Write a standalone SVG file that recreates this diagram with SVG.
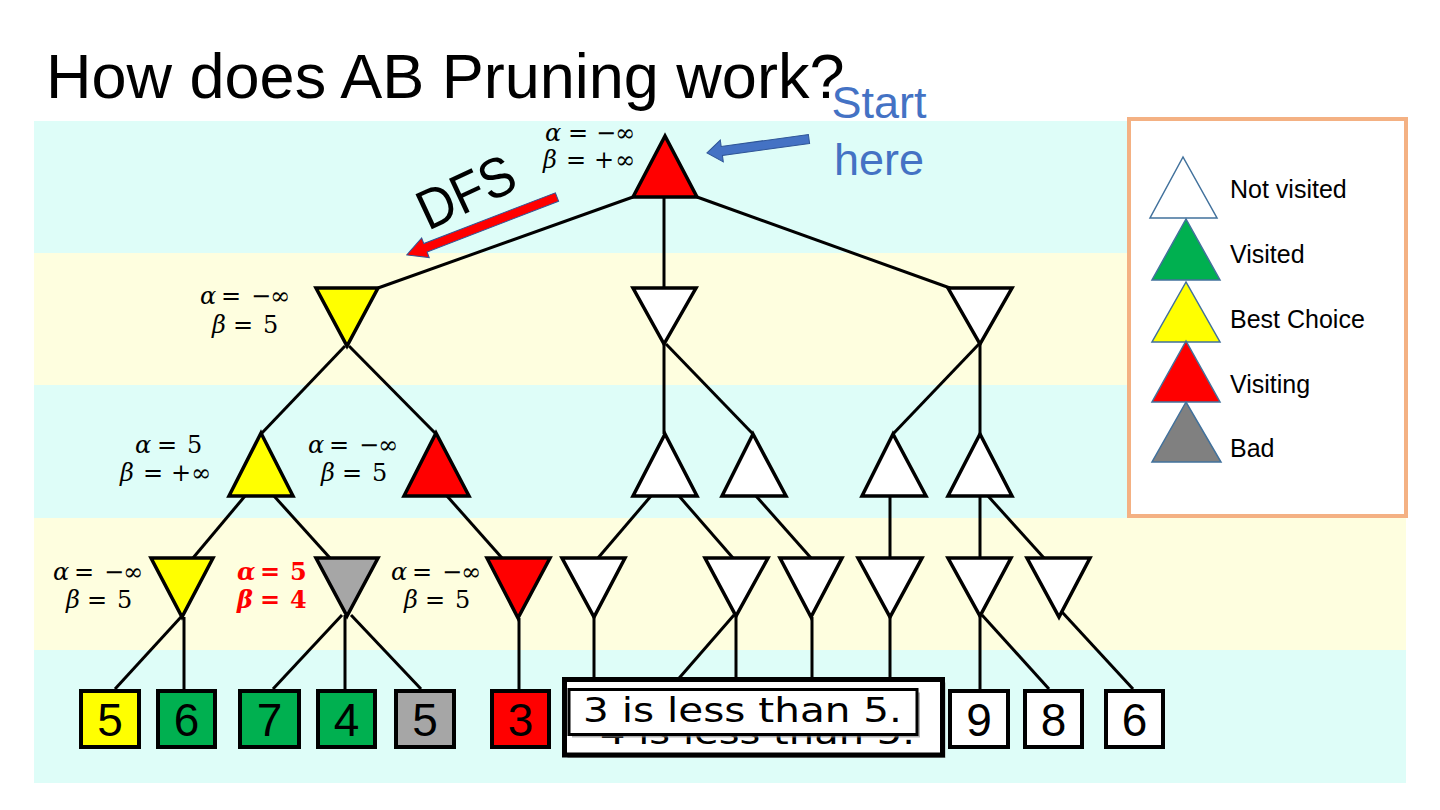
<svg xmlns="http://www.w3.org/2000/svg" width="1440" height="810" viewBox="0 0 1440 810">
<defs>
<style>
.bandC{fill:#DEFDF8}
.bandY{fill:#FEFEDF}
.tri{stroke:#000;stroke-width:3.5;stroke-linejoin:miter}
.conn line{stroke:#000;stroke-width:3;stroke-linecap:butt}
.leaf rect{stroke:#000;stroke-width:4}
.leaf text{font-family:"Liberation Sans",Arial,sans-serif;font-size:46px;text-anchor:middle;fill:#000}
.lbl{font-family:"DejaVu Serif","Liberation Serif",serif;font-size:24px;fill:#000}
.lbl .g{font-style:italic}
.red{fill:#FF0000;font-weight:bold}
.lg{stroke:#41719C;stroke-width:1.5}
.lgt{font-family:"Liberation Sans",Arial,sans-serif;font-size:25px;fill:#000}
.white{fill:#FFFFFF}.yellow{fill:#FFFF00}.redf{fill:#FF0000}.gray{fill:#A6A6A6}.green{fill:#00B050}
</style>
</defs>
<rect width="1440" height="810" fill="#FFFFFF"/>
<g id="bands">
<rect class="bandC" x="34" y="121" width="1372" height="132"/>
<rect class="bandY" x="34" y="253" width="1372" height="132"/>
<rect class="bandC" x="34" y="385" width="1372" height="133"/>
<rect class="bandY" x="34" y="518" width="1372" height="132"/>
<rect class="bandC" x="34" y="650" width="1372" height="133"/>
</g>
<text id="title" x="46" y="98" font-family="Liberation Sans, Arial, sans-serif" font-size="63" fill="#000">How does AB Pruning work?</text>

<g id="connectors" class="conn">
<line x1="633" y1="197" x2="378" y2="288"/>
<line x1="664" y1="197" x2="664" y2="288"/>
<line x1="697" y1="197" x2="950" y2="288"/>
<line x1="345" y1="346" x2="261" y2="434"/>
<line x1="349" y1="346" x2="436" y2="434"/>
<line x1="664" y1="344" x2="664" y2="434"/>
<line x1="666" y1="344" x2="753" y2="434"/>
<line x1="979" y1="344" x2="893" y2="434"/>
<line x1="980" y1="344" x2="980" y2="434"/>
<line x1="245" y1="496" x2="193" y2="558"/>
<line x1="274" y1="496" x2="330" y2="558"/>
<line x1="447" y1="496" x2="502" y2="558"/>
<line x1="651" y1="496" x2="598" y2="558"/>
<line x1="679" y1="496" x2="733" y2="558"/>
<line x1="756" y1="496" x2="811" y2="558"/>
<line x1="890" y1="496" x2="890" y2="558"/>
<line x1="980" y1="496" x2="980" y2="558"/>
<line x1="988" y1="496" x2="1044" y2="558"/>
<line x1="181" y1="617" x2="115" y2="689"/>
<line x1="184" y1="617" x2="184" y2="689"/>
<line x1="342" y1="615" x2="273" y2="689"/>
<line x1="345" y1="615" x2="345" y2="689"/>
<line x1="351" y1="615" x2="421" y2="689"/>
<line x1="519" y1="618" x2="519" y2="689"/>
<line x1="594" y1="617" x2="594" y2="684"/>
<line x1="734" y1="615" x2="674" y2="684"/>
<line x1="736" y1="615" x2="736" y2="684"/>
<line x1="812" y1="617" x2="812" y2="684"/>
<line x1="890" y1="617" x2="890" y2="684"/>
<line x1="980" y1="615" x2="980" y2="689"/>
<line x1="982" y1="615" x2="1049" y2="689"/>
<line x1="1062" y1="612" x2="1133" y2="689"/>
</g>

<g id="root"><polygon class="tri redf" points="665,136 633,197 697,197"/></g>
<g id="n1a"><polygon class="tri yellow" points="316,288 378,288 347,346"/></g>
<g id="n1b"><polygon class="tri white" points="633,288 696,288 664,344"/></g>
<g id="n1c"><polygon class="tri white" points="948,288 1012,288 980,344"/></g>
<g id="n2a"><polygon class="tri yellow" points="261,433 229,496 293,496"/></g>
<g id="n2b"><polygon class="tri redf" points="436,433 404,496 469,496"/></g>
<g id="n2c"><polygon class="tri white" points="665,434 633,496 697,496"/></g>
<g id="n2d"><polygon class="tri white" points="753,434 722,496 786,496"/></g>
<g id="n2e"><polygon class="tri white" points="893,434 862,496 926,496"/></g>
<g id="n2f"><polygon class="tri white" points="980,434 948,496 1012,496"/></g>
<g id="n3a"><polygon class="tri yellow" points="151,558 213,558 182,617"/></g>
<g id="n3b"><polygon class="tri gray" points="316,558 378,558 347,616"/></g>
<g id="n3c"><polygon class="tri redf" points="487,558 550,558 518,618"/></g>
<g id="n3d"><polygon class="tri white" points="562,558 625,558 594,617"/></g>
<g id="n3e"><polygon class="tri white" points="705,558 768,558 736,616"/></g>
<g id="n3f"><polygon class="tri white" points="780,558 842,558 811,617"/></g>
<g id="n3g"><polygon class="tri white" points="858,558 922,558 890,617"/></g>
<g id="n3h"><polygon class="tri white" points="948,558 1011,558 980,616"/></g>
<g id="n3i"><polygon class="tri white" points="1027,558 1090,558 1059,617"/></g>

<g id="leaf1" class="leaf"><rect class="yellow" x="81" y="691" width="58" height="56"/><text x="110" y="736">5</text></g>
<g id="leaf2" class="leaf"><rect class="green" x="158" y="691" width="57" height="56"/><text x="186.5" y="736">6</text></g>
<g id="leaf3" class="leaf"><rect class="green" x="240" y="691" width="59" height="56"/><text x="269.5" y="736">7</text></g>
<g id="leaf4" class="leaf"><rect class="green" x="318" y="691" width="57" height="56"/><text x="346.5" y="736">4</text></g>
<g id="leaf5" class="leaf"><rect class="gray" x="396" y="691" width="58" height="56"/><text x="425" y="736">5</text></g>
<g id="leaf6" class="leaf"><rect class="redf" x="492" y="691" width="57" height="56"/><text x="520.5" y="736">3</text></g>
<g id="leaf7" class="leaf"><rect class="white" x="950" y="691" width="58" height="56"/><text x="979" y="736">9</text></g>
<g id="leaf8" class="leaf"><rect class="white" x="1025" y="691" width="57" height="56"/><text x="1053.5" y="736">8</text></g>
<g id="leaf9" class="leaf"><rect class="white" x="1106" y="691" width="57" height="56"/><text x="1134.5" y="736">6</text></g>

<g id="labels" class="lbl">
<text y="141"><tspan class="g" x="545">α</tspan><tspan x="568">=</tspan><tspan x="596">−</tspan><tspan x="615">∞</tspan></text>
<text y="168"><tspan class="g" x="543">β</tspan><tspan x="566">=</tspan><tspan x="594">+</tspan><tspan x="615">∞</tspan></text>
<text y="304"><tspan class="g" x="200">α</tspan><tspan x="221">=</tspan><tspan x="251">−</tspan><tspan x="270">∞</tspan></text>
<text y="333"><tspan class="g" x="212">β</tspan><tspan x="233">=</tspan><tspan x="263">5</tspan></text>
<text y="453"><tspan class="g" x="135">α</tspan><tspan x="157">=</tspan><tspan x="187">5</tspan></text>
<text y="481"><tspan class="g" x="120">β</tspan><tspan x="143">=</tspan><tspan x="171">+</tspan><tspan x="191">∞</tspan></text>
<text y="453"><tspan class="g" x="308">α</tspan><tspan x="329">=</tspan><tspan x="359">−</tspan><tspan x="378">∞</tspan></text>
<text y="481"><tspan class="g" x="321">β</tspan><tspan x="342">=</tspan><tspan x="372">5</tspan></text>
<text y="580"><tspan class="g" x="53">α</tspan><tspan x="74">=</tspan><tspan x="104">−</tspan><tspan x="123">∞</tspan></text>
<text y="608"><tspan class="g" x="66">β</tspan><tspan x="87">=</tspan><tspan x="117">5</tspan></text>
<text y="580" class="red"><tspan class="g" x="237">α</tspan><tspan x="260">=</tspan><tspan x="290">5</tspan></text>
<text y="608" class="red"><tspan class="g" x="237">β</tspan><tspan x="260">=</tspan><tspan x="290">4</tspan></text>
<text y="580"><tspan class="g" x="391">α</tspan><tspan x="412">=</tspan><tspan x="442">−</tspan><tspan x="461">∞</tspan></text>
<text y="608"><tspan class="g" x="404">β</tspan><tspan x="425">=</tspan><tspan x="455">5</tspan></text>
</g>

<g id="dfs">
<polygon transform="translate(557,197) rotate(158.9)" points="0,-4.5 141,-4.5 141,-10.5 161,0 141,10.5 141,4.5 0,4.5" fill="#FF0000" stroke="#2F5597" stroke-width="1"/>
<text transform="translate(428,231) rotate(-25)" font-family="Liberation Sans, Arial, sans-serif" font-size="56" textLength="102" lengthAdjust="spacingAndGlyphs" fill="#000">DFS</text>
</g>

<g id="start">
<polygon transform="translate(809,139) rotate(172.2)" points="0,-4.5 88,-4.5 88,-11 103,0 88,11 88,4.5 0,4.5" fill="#4472C4" stroke="#2F5597" stroke-width="1"/>
<text x="879" y="118" text-anchor="middle" font-family="Liberation Sans, Arial, sans-serif" font-size="45" fill="#4472C4">Start</text>
<text x="879" y="175" text-anchor="middle" font-family="Liberation Sans, Arial, sans-serif" font-size="45" fill="#4472C4">here</text>
</g>

<g id="callout">
<rect x="567.5" y="682.5" width="378" height="75.5" fill="#7F7F7F" opacity="0.6"/>
<rect x="564.5" y="679.5" width="378" height="75.5" fill="#FFFFFF" stroke="#000" stroke-width="5"/>
<text x="600" y="744" font-family="DejaVu Sans, Verdana, sans-serif" font-size="33" textLength="315" lengthAdjust="spacingAndGlyphs" fill="#000">4 is less than 5.</text>
<rect x="572" y="692.5" width="348" height="45" fill="#7F7F7F" opacity="0.6"/>
<rect x="569" y="689.5" width="348" height="45" fill="#FFFFFF" stroke="#000" stroke-width="3"/>
<text x="583" y="722" font-family="DejaVu Sans, Verdana, sans-serif" font-size="33" textLength="319" lengthAdjust="spacingAndGlyphs" fill="#000">3 is less than 5.</text>
</g>

<g id="legend">
<rect x="1129" y="119" width="277" height="397" fill="#FFFFFF" stroke="#F4B183" stroke-width="4"/>
<polygon class="lg white" points="1183,157 1150,218 1217,218"/>
<polygon class="lg green" points="1186,219 1152,280 1220,280"/>
<polygon class="lg yellow" points="1186,282 1152,342 1220,342"/>
<polygon class="lg redf" points="1186,341 1152,402 1220,402"/>
<polygon class="lg" fill="#808080" points="1186,402 1152,462 1221,462"/>
<text class="lgt" x="1230" y="198">Not visited</text>
<text class="lgt" x="1230" y="263">Visited</text>
<text class="lgt" x="1230" y="328">Best Choice</text>
<text class="lgt" x="1230" y="393">Visiting</text>
<text class="lgt" x="1230" y="457">Bad</text>
</g>
</svg>
